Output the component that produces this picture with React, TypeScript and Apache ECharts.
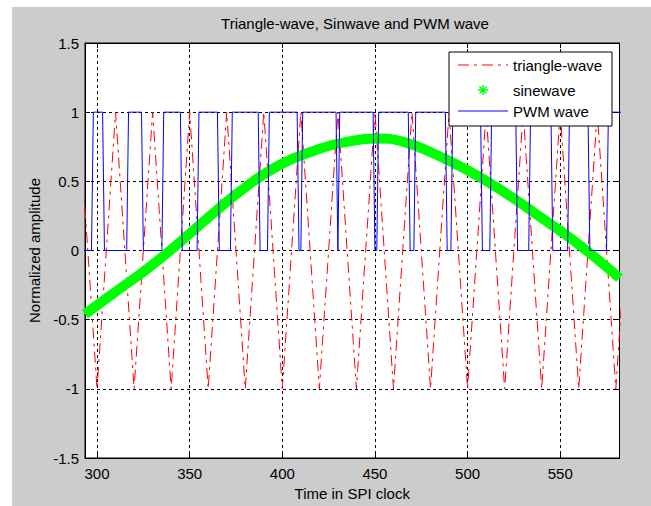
import React, { useEffect, useRef } from "react";
import * as echarts from "echarts";

const FONT = '"Liberation Sans", Arial, sans-serif';

const titleText = "Triangle-wave, Sinwave and PWM wave";
const xName = "Time in SPI clock";
const yName = "Normalized amplitude";
const seriesNames = ["triangle-wave", "sinewave", "PWM wave"];

const xTicks = [300, 350, 400, 450, 500, 550];
const xMin = 293.5;
const xMax = 582;
const yMin = -1.5;
const yMax = 1.5;
const yStep = 0.5;

// triangle-wave vertices (x, value)
const triX = [290, 300, 310, 320, 330, 340, 350, 360, 370, 380, 390, 400, 410, 420, 430, 440, 450, 460, 470, 480, 490, 500, 510, 520, 530, 540, 550, 560, 570, 580, 590];
const triY = [1, -1, 1, -1, 1, -1, 1, -1, 1, -1, 1, -1, 1, -1, 1, -1, 1, -1, 1, -1, 1, -1, 1, -1, 1, -1, 1, -1, 1, -1, 1];

// sinewave points
const sineX = [293.5, 308.8, 326.8, 341.2, 362.8, 380.8, 398.8, 416.8, 434.8, 451, 465.4, 483.4, 501.4, 519.4, 537.4, 555.4, 573.4, 582];
const sineY = [-0.46, -0.31, -0.135, 0.02, 0.27, 0.465, 0.62, 0.72, 0.785, 0.81, 0.785, 0.69, 0.57, 0.425, 0.26, 0.09, -0.1, -0.2];

// PWM wave: last sample before each toggle (starts low)
const pwmStartX = 293;
const pwmEndX = 583;
const pwmStartValue = 0;
const pwmEdges = [297, 303, 316, 324, 335, 345, 354, 365, 372, 387, 392, 408, 410, 429, 430, 449, 451, 468, 471, 488, 491, 507, 512, 526, 533, 545, 554, 565, 575];

function buildPwm(): number[][] {
  const pts: number[][] = [[pwmStartX, pwmStartValue]];
  let v = pwmStartValue;
  for (const e of pwmEdges) {
    pts.push([e, v]);
    v = v === 0 ? 1 : 0;
    pts.push([e + 1, v]);
  }
  pts.push([pwmEndX, v]);
  return pts;
}

const RED = "#ff0000";
const GREEN = "#00ff00";
const BLUE = "#0000ff";
const DASHDOT = [11, 5, 3, 5];

export default function App() {
  const ref = useRef<HTMLDivElement>(null);

  useEffect(() => {
    if (!ref.current) return;
    const chart = echarts.init(ref.current, undefined, { renderer: "svg" });

    const triData = triX.map((x, i) => [x, triY[i]]);
    const sineData = sineX.map((x, i) => [x, sineY[i]]);
    const pwmData = buildPwm();

    const gridLeft = 85;
    const gridTop = 43;
    const gridW = 534.5;
    const gridH = 420;

    const lx = 449;
    const ly = 52;
    const lw = 163;
    const lh = 74;

    const starCx = 483;
    const starCy = 90;
    const sr = 5;
    const LZ = 100;

    const option: any = {
      animation: false,
      backgroundColor: "transparent",
      textStyle: { fontFamily: FONT },
      title: {
        text: titleText,
        left: 350,
        top: 11,
        textAlign: "center",
        textStyle: { fontSize: 15, fontWeight: "normal", color: "#000", fontFamily: FONT, lineHeight: 15 },
      },
      grid: {
        left: gridLeft,
        top: gridTop,
        width: gridW,
        height: gridH,
        show: true,
        backgroundColor: "#ffffff",
        borderColor: "#000",
        borderWidth: 1,
      },
      xAxis: [
        {
          type: "value",
          min: xMin,
          max: xMax,
          name: xName,
          nameLocation: "middle",
          nameGap: 28,
          nameTextStyle: { fontSize: 15, color: "#000", fontFamily: FONT },
          axisLine: { show: true, onZero: false, lineStyle: { color: "#000", width: 1 } },
          axisTick: { show: true, inside: true, length: 5, customValues: xTicks, lineStyle: { color: "#000" } },
          axisLabel: { customValues: xTicks, fontSize: 15, color: "#000", margin: 8, fontFamily: FONT },
          splitLine: { show: true, lineStyle: { color: "#000", type: [3, 3], width: 1 } },
        },
        {
          type: "value",
          position: "top",
          min: xMin,
          max: xMax,
          axisLine: { show: true, onZero: false, lineStyle: { color: "#000", width: 1 } },
          axisTick: { show: true, inside: true, length: 5, customValues: xTicks, lineStyle: { color: "#000" } },
          axisLabel: { show: false, customValues: xTicks },
          splitLine: { show: false },
        },
      ],
      yAxis: [
        {
          type: "value",
          min: yMin,
          max: yMax,
          interval: yStep,
          name: yName,
          nameLocation: "middle",
          nameGap: 43,
          nameTextStyle: { fontSize: 15, color: "#000", fontFamily: FONT },
          axisLine: { show: true, onZero: false, lineStyle: { color: "#000", width: 1 } },
          axisTick: { show: true, inside: true, length: 5, lineStyle: { color: "#000" } },
          axisLabel: { fontSize: 15, color: "#000", margin: 6, fontFamily: FONT },
          splitLine: { show: true, lineStyle: { color: "#000", type: [3, 3], width: 1 } },
        },
        {
          type: "value",
          position: "right",
          min: yMin,
          max: yMax,
          interval: yStep,
          axisLine: { show: true, onZero: false, lineStyle: { color: "#000", width: 1 } },
          axisTick: { show: true, inside: true, length: 5, lineStyle: { color: "#000" } },
          axisLabel: { show: false },
          splitLine: { show: false },
        },
      ],
      series: [
        {
          name: seriesNames[0],
          type: "line",
          data: triData,
          showSymbol: false,
          symbol: "none",
          lineStyle: { color: RED, width: 1, type: DASHDOT },
          z: 3,
        },
        {
          name: seriesNames[1],
          type: "line",
          data: sineData,
          smooth: 0.5,
          showSymbol: false,
          symbol: "none",
          lineStyle: { color: GREEN, width: 10 },
          z: 4,
        },
        {
          name: seriesNames[2],
          type: "line",
          data: pwmData,
          showSymbol: false,
          symbol: "none",
          lineStyle: { color: BLUE, width: 1 },
          z: 5,
        },
      ],
      graphic: [
        {
          type: "rect",
          z: LZ,
          shape: { x: lx, y: ly, width: lw, height: lh },
          style: { fill: "#fff", stroke: "#000", lineWidth: 1 },
        },
        {
          type: "line",
          z: LZ + 1,
          shape: { x1: 458, y1: 65, x2: 508, y2: 65 },
          style: { stroke: RED, lineWidth: 1, lineDash: DASHDOT },
        },
        {
          type: "text",
          z: LZ + 1,
          x: 513,
          y: 65,
          style: { text: seriesNames[0], fill: "#000", fontSize: 15, fontFamily: FONT, verticalAlign: "middle", align: "left" },
        },
        {
          type: "line",
          z: LZ + 1,
          shape: { x1: starCx - sr, y1: starCy, x2: starCx + sr, y2: starCy },
          style: { stroke: GREEN, lineWidth: 1.5 },
        },
        {
          type: "line",
          z: LZ + 1,
          shape: { x1: starCx, y1: starCy - sr, x2: starCx, y2: starCy + sr },
          style: { stroke: GREEN, lineWidth: 1.5 },
        },
        {
          type: "line",
          z: LZ + 1,
          shape: { x1: starCx - sr * 0.7, y1: starCy - sr * 0.7, x2: starCx + sr * 0.7, y2: starCy + sr * 0.7 },
          style: { stroke: GREEN, lineWidth: 1.5 },
        },
        {
          type: "line",
          z: LZ + 1,
          shape: { x1: starCx - sr * 0.7, y1: starCy + sr * 0.7, x2: starCx + sr * 0.7, y2: starCy - sr * 0.7 },
          style: { stroke: GREEN, lineWidth: 1.5 },
        },
        {
          type: "text",
          z: LZ + 1,
          x: 513,
          y: 90,
          style: { text: seriesNames[1], fill: "#000", fontSize: 15, fontFamily: FONT, verticalAlign: "middle", align: "left" },
        },
        {
          type: "line",
          z: LZ + 1,
          shape: { x1: 458, y1: 111, x2: 508, y2: 111 },
          style: { stroke: BLUE, lineWidth: 1 },
        },
        {
          type: "text",
          z: LZ + 1,
          x: 513,
          y: 111,
          style: { text: seriesNames[2], fill: "#000", fontSize: 15, fontFamily: FONT, verticalAlign: "middle", align: "left" },
        },
      ],
    };

    chart.setOption(option);
    return () => chart.dispose();
  }, []);

  return (
    <div style={{ position: "fixed", left: 0, top: 0, width: 651, height: 506, background: "#fff", overflow: "hidden" }}>
      <div style={{ position: "absolute", left: 12, top: 7, width: 639, height: 499, background: "#cccccc" }} />
      <div ref={ref} style={{ position: "absolute", left: 0, top: 0, width: 651, height: 506 }} />
    </div>
  );
}
